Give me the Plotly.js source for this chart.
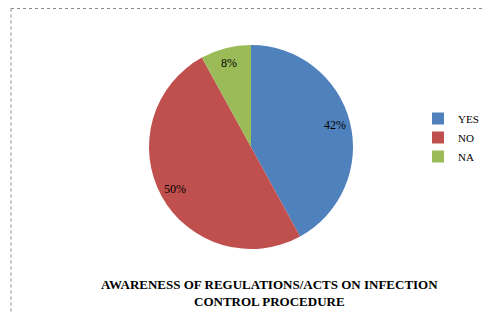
<!DOCTYPE html>
<html><head><meta charset="utf-8">
<script src="https://cdn.plot.ly/plotly-3.0.1.min.js"></script>
<style>html,body{margin:0;padding:0;background:#fff;}#chart{width:482px;height:313px;}</style>
</head><body><div id="chart"></div>
<script>
const categories = ["YES", "NO", "NA"];
const values = [42, 50, 8];
const colors = ["#4F81BD", "#C0504D", "#9BBB59"];
const titleLines = ["AWARENESS OF REGULATIONS/ACTS ON INFECTION", "CONTROL PROCEDURE"];

const W = 482, H = 313;
const FONT = 'Liberation Serif, Times New Roman, serif';
const dom = {x: [149/W, 353/W], y: [64/H, 268/H]};
const cxp = (dom.x[0]+dom.x[1])/2, cyp = (dom.y[0]+dom.y[1])/2;
const Rpx = (dom.x[1]-dom.x[0])*W/2;

const total = values.reduce((a,b)=>a+b,0);
const annotations = [];
let acc = 0;
values.forEach((v,i)=>{
  const mid = (acc + v/2)/total*2*Math.PI; acc += v;
  const r = 0.855*Rpx;
  annotations.push({
    xref:'paper', yref:'paper', xanchor:'center', yanchor:'middle',
    x: cxp + r*Math.sin(mid)/W, y: cyp + r*Math.cos(mid)/H,
    text: Math.round(v/total*100)+'%', showarrow:false,
    font:{family:FONT, size:12, color:'#000'}
  });
});
annotations.push({
  xref:'paper', yref:'paper', x: 269/W, y: 1-292.5/H, xanchor:'center', yanchor:'middle', showarrow:false,
  text: '<b>'+titleLines.join('<br>')+'</b>',
  font:{family:FONT, size:13, color:'#000'},
  align:'center'
});

const trace = {
  type:'pie', labels: categories, values: values,
  marker:{colors: colors, line:{width:0}},
  sort:false, direction:'clockwise', rotation:0,
  textinfo:'none', hoverinfo:'none',
  domain: dom
};

const layout = {
  width:W, height:H, margin:{l:0,r:0,t:0,b:0,autoexpand:false},
  paper_bgcolor:'#fff', showlegend:true,
  legend:{x:418/W, y:1-104/H, xanchor:'left', yanchor:'top',
    font:{family:FONT, size:11, color:'#000'},
    bgcolor:'rgba(0,0,0,0)', itemwidth:30},
  annotations: annotations,
  shapes:[
    {type:'line', xref:'paper', yref:'paper', x0:11/W, x1:1, y0:1-8.5/H, y1:1-8.5/H, line:{color:'#888', width:1, dash:'dot'}},
    {type:'line', xref:'paper', yref:'paper', x0:11/W, x1:11/W, y0:1-8.5/H, y1:0, line:{color:'#888', width:1, dash:'dot'}}
  ]
};
Plotly.newPlot('chart', [trace], layout, {displayModeBar:false, staticPlot:true});
</script></body></html>
